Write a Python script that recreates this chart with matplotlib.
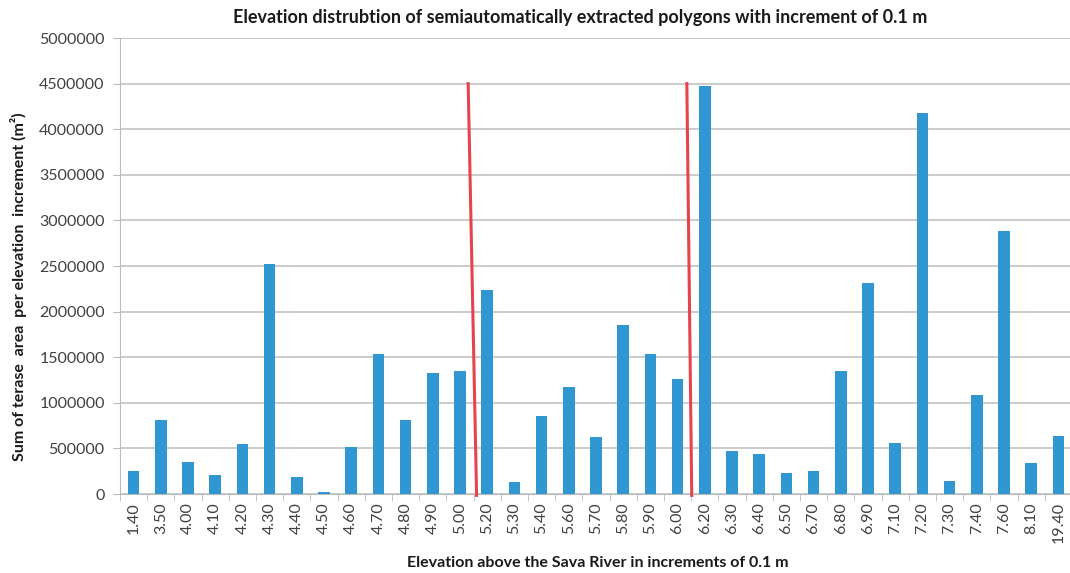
import matplotlib
matplotlib.use("Agg")
import matplotlib.pyplot as plt
import numpy as np

plt.rcParams['font.family'] = ['Lato', 'DejaVu Sans']

categories = ["1.40", "3.50", "4.00", "4.10", "4.20", "4.30", "4.40", "4.50", "4.60",
              "4.70", "4.80", "4.90", "5.00", "5.20", "5.30", "5.40", "5.60", "5.70",
              "5.80", "5.90", "6.00", "6.20", "6.30", "6.40", "6.50", "6.70", "6.80",
              "6.90", "7.10", "7.20", "7.30", "7.40", "7.60", "8.10", "19.40"]
areas = [255000, 814000, 346000, 211000, 543000, 2520000, 182000, 18000, 510000,
         1533000, 814000, 1325000, 1350000, 2240000, 135000, 853000, 1174000, 620000,
         1850000, 1540000, 1260000, 4475000, 474000, 440000, 226000, 255000, 1347000,
         2310000, 562000, 4180000, 142000, 1090000, 2880000, 340000, 640000]
yticks = [0, 500000, 1000000, 1500000, 2000000, 2500000, 3000000, 3500000, 4000000, 4500000, 5000000]

# red divider lines (category-index coordinates: top, bottom)
divider_x_top = [12.30, 20.34]
divider_x_bottom = [12.61, 20.52]
divider_top = 4500000

fig = plt.figure(figsize=(10.7, 5.73), dpi=100)
ax = fig.add_axes([120/1070, 1-494/573, 952/1070, (494-38)/573])

x = np.arange(len(categories))
ax.bar(x, areas, width=0.43, color='#3197D2', zorder=3)

for xt, xb in zip(divider_x_top, divider_x_bottom):
    ax.plot([xt, xb], [divider_top, -15000], color='#E5444C', lw=2.2, zorder=4, clip_on=False)

ax.set_xlim(-0.5, len(categories) - 0.5)
ax.set_ylim(0, 5000000)
ax.set_yticks(yticks)
ax.set_yticklabels([str(v) for v in yticks], fontsize=11.5, color='#404040')
ax.yaxis.grid(True, color='#C2C2C2', lw=1.2, zorder=0)
ax.set_xticks(x)
ax.set_xticklabels(categories, rotation=90, fontsize=11.5, color='#404040')
ax.set_xticks(np.arange(-0.5, len(categories), 1), minor=True)
ax.tick_params(axis='x', which='major', length=0, pad=6)
ax.tick_params(axis='x', which='minor', length=5, color='#BBBBBB')
ax.tick_params(axis='y', length=5, color='#BBBBBB', pad=6)

for s in ['top', 'right']:
    ax.spines[s].set_visible(False)
ax.spines['left'].set_color('#BBBBBB')
ax.spines['bottom'].set_color('#BBBBBB')

fig.text(580/1070, 1-18/573, "Elevation distrubtion of semiautomatically extracted polygons with increment of 0.1 m",
         ha='center', va='center', fontsize=13, fontweight='bold', color='#1a1a1a')
fig.text(598/1070, 1-563/573, "Elevation above the Sava River in increments of 0.1 m",
         ha='center', va='center', fontsize=11.5, fontweight='bold', color='#1a1a1a')
fig.text(19/1070, 1-287/573, "Sum of terase  area  per elevation  increment (m\u00b2)",
         ha='center', va='center', rotation=90, fontsize=11.5, fontweight='bold', color='#1a1a1a')

fig.savefig("out.png", dpi=100)
